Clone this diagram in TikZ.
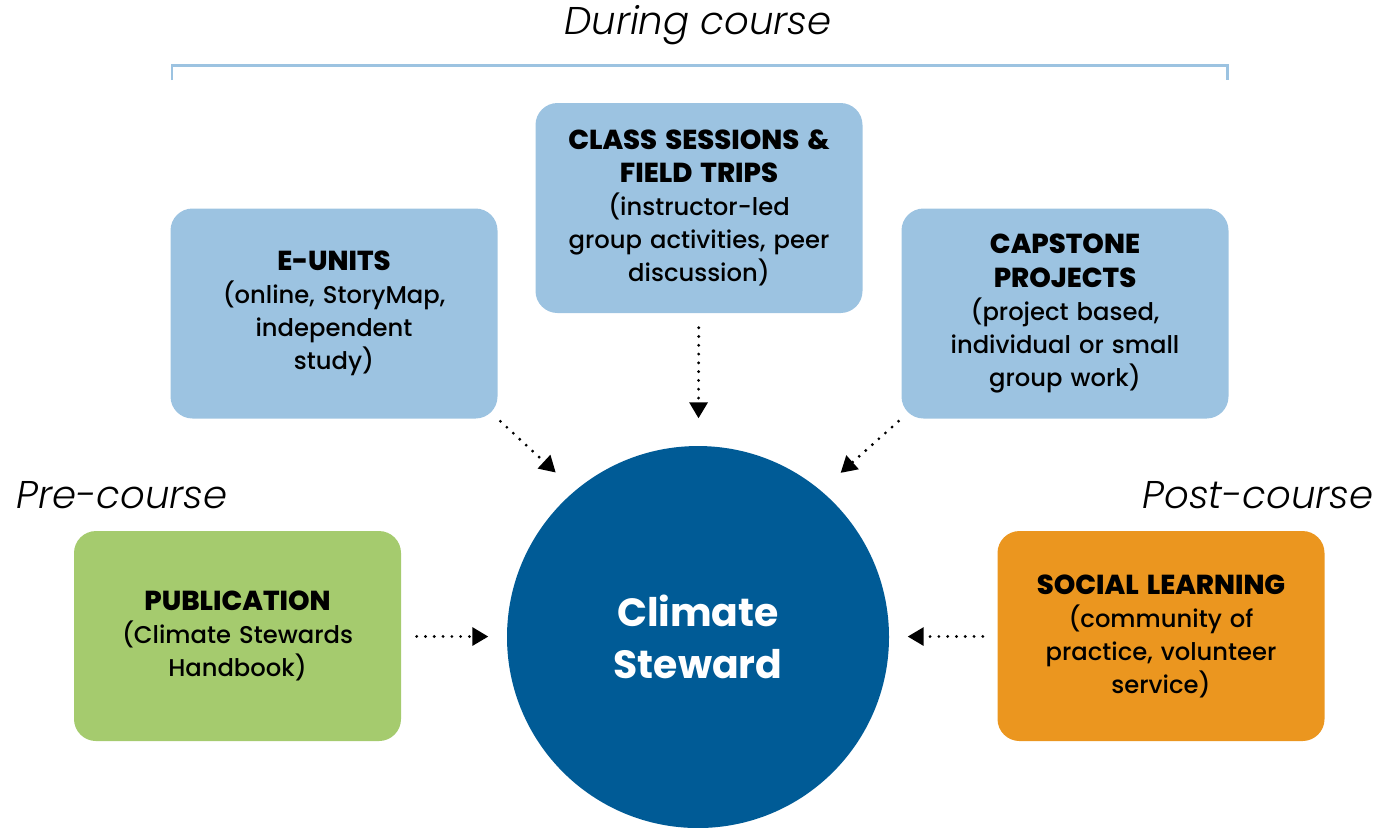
\documentclass[tikz,border=0pt]{standalone}
\usepackage{fontspec}
\setmainfont{Poppins}[UprightFont=* Medium, BoldFont=* Bold]
\newfontfamily\phasefont{Poppins}[UprightFont=* Light, ItalicFont=* Light Italic]
\newfontfamily\headfont{Poppins}[UprightFont=* ExtraBold]
\usepackage{tikz}
\usetikzlibrary{arrows.meta}
\usetikzlibrary{positioning}
\definecolor{boxblue}{HTML}{9CC3E1}
\definecolor{boxgreen}{HTML}{A5CB6E}
\definecolor{boxorange}{HTML}{EB961F}
\definecolor{hubblue}{HTML}{005B96}
\newcommand{\heading}[1]{{\headfont\fontsize{7.8}{9.4}\selectfont #1}}
\tikzset{
    stagebox/.style={align=center, rounded corners=0.22cm, minimum width=3.27cm, minimum height=2.1cm, text width=3.2cm, font=\fontsize{6.9}{9.4}\selectfont, text=black},
    duringbox/.style={stagebox, fill=boxblue},
    prebox/.style={stagebox, fill=boxgreen},
    postbox/.style={stagebox, fill=boxorange},
    hub/.style={circle, fill=hubblue, minimum size=3.82cm, text=white, align=center, font=\fontsize{11.2}{14.6}\selectfont\bfseries},
    phase/.style={font=\fontsize{11}{12}\selectfont\phasefont\itshape, text=black},
    feed/.style={dash pattern=on 0pt off 2.5pt, line cap=round, line width=0.9pt, -{Triangle[length=1.6mm, width=1.8mm, line cap=butt, sep=0pt]}}
}

\begin{document}
\begin{tikzpicture}[every node/.style={inner sep=0pt}]
\useasboundingbox (0,0) rectangle (13.89,-8.27);

\node[hub] (climate) at (6.98,-6.37) {Climate\\Steward};

\node[duringbox] (class) at (6.99,-2.08) {\heading{CLASS SESSIONS \&}\\\heading{FIELD TRIPS}\\(instructor-led\\group activities, peer\\discussion)};
\node[duringbox] (eunits) at (3.34,-3.135) {\heading{E-UNITS}\\(online, StoryMap,\\independent\\study)};
\node[duringbox] (capstone) at (10.65,-3.135) {\heading{CAPSTONE}\\\heading{PROJECTS}\\(project based,\\individual or small\\group work)};
\node[prebox] (publication) at (2.375,-6.36) {\heading{PUBLICATION}\\(Climate Stewards\\Handbook)};
\node[postbox] (social) at (11.61,-6.36) {\heading{SOCIAL LEARNING}\\(community of\\practice, volunteer\\service)};

% phase labels
\node[phase] (during) at (6.98,-0.25) {During course};
\node[phase] (precourse) at (1.22,-4.95) {Pre-course};
\node[phase] (postcourse) at (12.58,-4.95) {Post-course};

\draw[boxblue, line width=0.85pt] (1.72,-0.80) |- (12.27,-0.65) -- (12.27,-0.80);

% arrows into the hub
\draw[feed, shorten <=0.14cm, shorten >=0.27cm] (class) -- (climate);
\draw[feed, shorten <=0.03cm, shorten >=0.26cm] (eunits.south east) -- (climate.130);
\draw[feed, shorten <=0.03cm, shorten >=0.26cm] (capstone.south west) -- (climate.50);
\draw[feed, shorten <=0.15cm, shorten >=0.18cm] (publication) -- (climate);
\draw[feed, shorten <=0.14cm, shorten >=0.18cm] (social) -- (climate);

\end{tikzpicture}
\end{document}
